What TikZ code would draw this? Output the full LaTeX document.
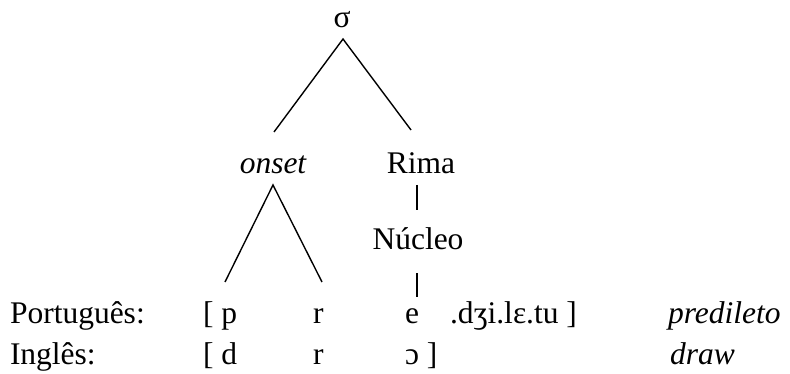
\documentclass[tikz,border=0pt]{standalone}
\usepackage{fontspec}
\setmainfont{Liberation Serif}
\usetikzlibrary{calc}
\begin{document}
\begin{tikzpicture}[x=1pt,y=-1pt,
  lbl/.style={inner sep=0pt,outer sep=0pt,font=\fontsize{31.5pt}{36pt}\selectfont},
  branch/.style={line width=1.4pt,line cap=butt}]
\useasboundingbox (0,0) rectangle (790,374);
% tree labels
\node[lbl,anchor=base] (sigma) at (342,28) {σ};
\node[lbl,anchor=base] (onset) at (273,174) {\itshape onset};
\node[lbl,anchor=base] (rima) at (421,174) {Rima};
\node[lbl,anchor=base] (nucleo) at (418,250) {Núcleo};
% row 1
\node[lbl,anchor=base west] (pt) at (10,323) {Português:};
\node[lbl,anchor=base west] (p1) at (203,323) {[ p};
\node[lbl,anchor=base west] (r1) at (313,323) {r};
\node[lbl,anchor=base west] (e1) at (405,323) {e};
\node[lbl,anchor=base west] (rest1) at (450,323) {.dʒi.lɛ.tu ]};
\node[lbl,anchor=base west] (w1) at (668,323) {\itshape predileto};
% row 2
\node[lbl,anchor=base west] (en) at (10,364) {Inglês:};
\node[lbl,anchor=base west] (d2) at (203,364) {[ d};
\node[lbl,anchor=base west] (r2) at (313,364) {r};
\node[lbl,anchor=base west] (o2) at (405,364) {ɔ ]};
\node[lbl,anchor=base west] (w2) at (670,364) {\itshape draw};
% connectors
\draw[branch] ($(onset.base)+(1,-42)$) -- ($(sigma.base)+(1,11)$) -- ($(rima.base)+(-10,-44)$);
\draw[branch] ($(p1.base west)+(22,-41)$) -- ($(onset.base)+(0,11)$) -- ($(r1.base west)+(9,-41)$);
\draw[branch] ($(rima.base)+(-4,11)$) -- ($(nucleo.base)+(-1,-40)$);
\draw[branch] ($(nucleo.base)+(-1,23)$) -- ($(e1.base west)+(12,-26)$);
\end{tikzpicture}
\end{document}
